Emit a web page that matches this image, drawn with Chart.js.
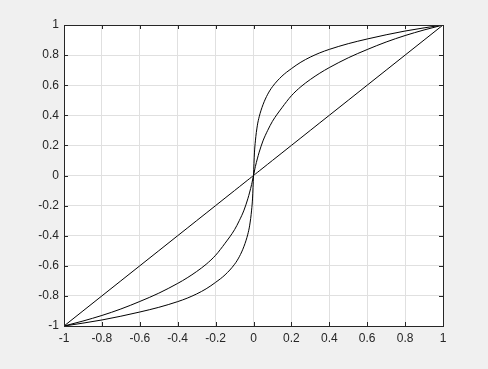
<!DOCTYPE html>
<html>
<head>
<meta charset="utf-8">
<script src="https://cdn.jsdelivr.net/npm/chart.js@4"></script>
<style>
  html, body { margin: 0; padding: 0; background: #f0f0f0; }
  #wrap { width: 488px; height: 369px; }
</style>
</head>
<body>
<div id="wrap"><canvas id="grafico"></canvas></div>
<script>
// valores (la curva es simetrica respecto al origen)
const xVals = [-1, -0.9, -0.8, -0.7, -0.6, -0.5, -0.4, -0.35, -0.3, -0.25, -0.2, -0.15, -0.1, -0.075, -0.05, -0.03, -0.02, -0.01, -0.005,
               0, 0.005, 0.01, 0.02, 0.03, 0.05, 0.075, 0.1, 0.15, 0.2, 0.25, 0.3, 0.35, 0.4, 0.5, 0.6, 0.7, 0.8, 0.9, 1];
const curvaFuerte = [-1, -0.981, -0.96, -0.935, -0.907, -0.876, -0.838, -0.815, -0.787, -0.753, -0.71, -0.66, -0.59, -0.54, -0.47, -0.39, -0.33, -0.23, -0.15,
                     0, 0.15, 0.23, 0.33, 0.39, 0.47, 0.54, 0.59, 0.66, 0.71, 0.753, 0.787, 0.815, 0.838, 0.876, 0.907, 0.935, 0.96, 0.981, 1];
const curvaMedia = [-1, -0.967, -0.93, -0.887, -0.837, -0.782, -0.717, -0.68, -0.638, -0.59, -0.53, -0.45, -0.36, -0.30, -0.23, -0.155, -0.11, -0.06, -0.03,
                    0, 0.03, 0.06, 0.11, 0.155, 0.23, 0.30, 0.36, 0.45, 0.53, 0.59, 0.638, 0.68, 0.717, 0.782, 0.837, 0.887, 0.93, 0.967, 1];
const recta = [-1, -0.9, -0.8, -0.7, -0.6, -0.5, -0.4, -0.35, -0.3, -0.25, -0.2, -0.15, -0.1, -0.075, -0.05, -0.03, -0.02, -0.01, -0.005,
               0, 0.005, 0.01, 0.02, 0.03, 0.05, 0.075, 0.1, 0.15, 0.2, 0.25, 0.3, 0.35, 0.4, 0.5, 0.6, 0.7, 0.8, 0.9, 1];
const ticksX = [-1, -0.8, -0.6, -0.4, -0.2, 0, 0.2, 0.4, 0.6, 0.8, 1];
const ticksY = [-1, -0.8, -0.6, -0.4, -0.2, 0, 0.2, 0.4, 0.6, 0.8, 1];

const puntos = (ys) => xVals.map((x, i) => ({ x: x, y: ys[i] }));

const colorEje = "#262626";
const fuente = { family: "'Liberation Sans', Arial, sans-serif", size: 12 };

// fondo blanco del area de trazado
const fondo = {
    id: "fondo",
    beforeDraw(chart) {
        const { ctx, chartArea: a } = chart;
        ctx.save();
        ctx.fillStyle = "#ffffff";
        ctx.fillRect(a.left, a.top, a.right - a.left, a.bottom - a.top);
        ctx.restore();
    }
};

// marco completo y marcas hacia dentro, estilo MATLAB
const marco = {
    id: "marco",
    afterDraw(chart) {
        const { ctx, chartArea: a, scales } = chart;
        ctx.save();
        ctx.strokeStyle = colorEje;
        ctx.lineWidth = 1;
        ctx.strokeRect(Math.round(a.left) + 0.5, Math.round(a.top) + 0.5,
                       Math.round(a.right - a.left), Math.round(a.bottom - a.top));
        const largo = 4;
        ctx.beginPath();
        ticksX.forEach(v => {
            const px = Math.round(scales.x.getPixelForValue(v)) + 0.5;
            ctx.moveTo(px, a.bottom); ctx.lineTo(px, a.bottom - largo);
            ctx.moveTo(px, a.top); ctx.lineTo(px, a.top + largo);
        });
        ticksY.forEach(v => {
            const py = Math.round(scales.y.getPixelForValue(v)) + 0.5;
            ctx.moveTo(a.left, py); ctx.lineTo(a.left + largo, py);
            ctx.moveTo(a.right, py); ctx.lineTo(a.right - largo, py);
        });
        ctx.stroke();
        ctx.restore();
    }
};

const serie = (datos) => ({
    data: puntos(datos),
    showLine: true,
    borderColor: "#000000",
    borderWidth: 1,
    pointRadius: 0,
    cubicInterpolationMode: "monotone",
    fill: false
});

new Chart(document.getElementById("grafico"), {
    type: "scatter",
    data: {
        datasets: [serie(curvaFuerte), serie(curvaMedia), serie(recta)]
    },
    options: {
        responsive: true,
        maintainAspectRatio: false,
        animation: false,
        events: [],
        layout: { padding: { left: 0, right: 45, top: 25, bottom: 0 } },
        plugins: { legend: { display: false }, tooltip: { enabled: false } },
        scales: {
            x: {
                type: "linear",
                min: -1, max: 1,
                afterBuildTicks: (eje) => { eje.ticks = ticksX.map(v => ({ value: v })); },
                afterFit: (eje) => { eje.height = 43; },
                grid: { color: "#e0e0e0", drawTicks: false },
                border: { display: false },
                ticks: { color: colorEje, font: fuente, padding: 5, maxRotation: 0,
                         callback: (v) => String(Math.round(v * 10) / 10) }
            },
            y: {
                type: "linear",
                min: -1, max: 1,
                afterBuildTicks: (eje) => { eje.ticks = ticksY.map(v => ({ value: v })); },
                afterFit: (eje) => { eje.width = 64; },
                grid: { color: "#e0e0e0", drawTicks: false },
                border: { display: false },
                ticks: { color: colorEje, font: fuente, padding: 5,
                         callback: (v) => String(Math.round(v * 10) / 10) }
            }
        }
    },
    plugins: [fondo, marco]
});
</script>
</body>
</html>
